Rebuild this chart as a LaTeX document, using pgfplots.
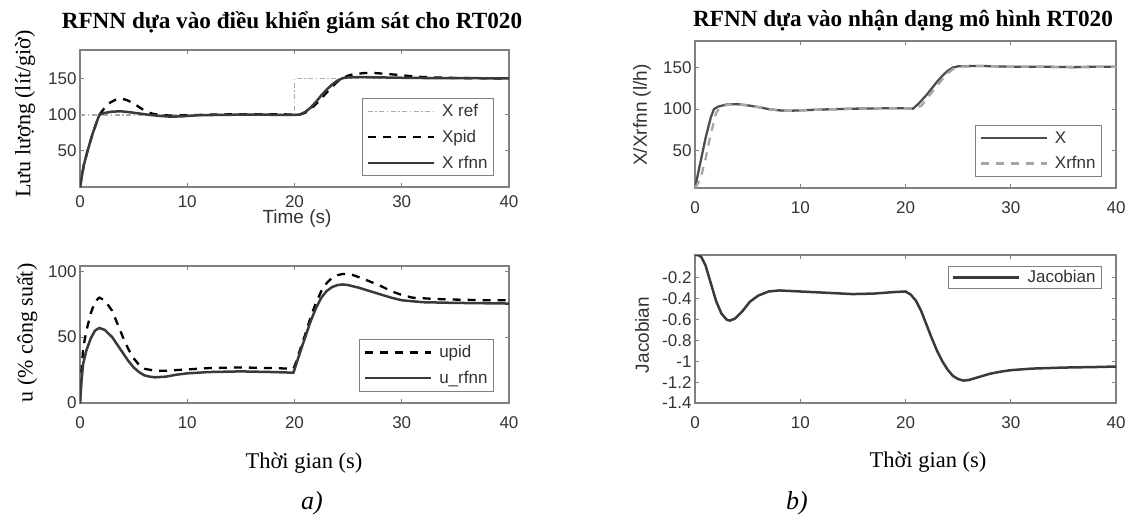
\documentclass[border=0pt]{standalone}
\usepackage{fontspec}
\setmainfont{Liberation Serif}
\newfontfamily\sansf{Liberation Sans}
\usepackage{pgfplots}
\pgfplotsset{compat=1.18}
\definecolor{axgray}{HTML}{808080}
\definecolor{dk}{HTML}{3A3A3A}
\pgfplotsset{
  mat/.style={
    scale only axis, clip=true,
    anchor=north west,
    xmin=0, xmax=40, xtick={0,10,20,30,40},
    axis line style={axgray, line width=1.2bp},
    tick style={axgray, line width=1bp},
    major tick length=4bp,
    tick pos=both, tick align=inside,
    tick label style={font=\sansf\fontsize{17bp}{20bp}\selectfont, text=black!80},
    /pgf/number format/assume math mode=true,
    legend cell align=left,
    legend style={draw=axgray, line width=1bp, fill=white, font=\sansf\fontsize{17bp}{20bp}\selectfont, text=black!80,
      inner xsep=4bp, inner ysep=4bp, row sep=8bp},
    legend image code/.code={\draw[#1] (0bp,0bp) -- (66bp,0bp); \path (71bp,0bp);},
  }
}
\begin{document}
\begin{tikzpicture}
\path[use as bounding box] (0bp,0bp) rectangle (1137bp,-517bp);

% ---- a) top
\begin{axis}[mat, at={(80bp,-50bp)}, width=429bp, height=137bp,
  ymin=0, ymax=190, ytick={50,100,150},
  xticklabel style={yshift=-5bp},
  legend style={at={(0.965,0.65)}, anchor=north east}]
\addplot[gray!65, line width=1.3bp, dash pattern=on 5bp off 2.5bp on 1.5bp off 2.5bp] coordinates {(0,100) (20,100) (20,150) (40,150)};
\addlegendentry{X ref}
\addplot[black, line width=2.3bp, dash pattern=on 8bp off 7bp] coordinates {
(0,0) (0.35,30) (0.7,50) (1.2,75) (1.8,100) (2.3,110) (2.8,117) (3.3,121) (3.8,122.5) (4.3,121) (4.8,117.5) (5.3,113) (5.8,108) (6.3,104) (6.8,101.5) (7.5,100) (8.5,99) (10,99.5) (12,100.3) (15,101) (18,101) (20,100.5) (20.5,100.5) (21,103) (21.5,108) (22,115) (22.5,123) (23,131) (23.5,139) (24,146) (24.5,151) (25,154.5) (25.5,156.5) (26.5,158) (27.5,158) (28.5,157) (30,155) (31,153.5) (32,152.5) (34,151.5) (36,151) (40,150.5)};
\addlegendentry{Xpid}
\addplot[dk, line width=2.5bp] coordinates {
(0,0) (0.35,30) (0.7,50) (1.2,75) (1.8,100) (2.2,102.5) (3,104.5) (3.8,105) (4.5,104) (5.5,102) (6.5,100) (7.5,98.5) (8.5,97.5) (9.5,98) (11,99.5) (13,100) (16,100.5) (19,100) (20,100) (20.5,100.5) (21,104) (21.5,110) (22,118) (22.5,127) (23,135) (23.5,142) (24,147.5) (24.5,151) (25,152) (26,152.5) (28,152) (30,151.5) (33,151) (36,151) (40,150.5)};
\addlegendentry{X rfnn}
\end{axis}

% ---- a) bottom
\begin{axis}[mat, at={(80bp,-266bp)}, width=429bp, height=137bp,
  ymin=0, ymax=104, ytick={0,50,100},
  xticklabel style={yshift=-10bp},
  legend style={at={(0.965,0.467)}, anchor=north east}]
\addplot[black, line width=2.3bp, dash pattern=on 8bp off 7bp] coordinates {
(0,0) (0.15,25) (0.3,42) (0.6,55) (1,68) (1.4,77) (1.8,80) (2.3,78) (3,70) (3.5,60) (4,50) (4.5,41) (5,34) (5.5,29) (6,26) (7,24.5) (8,24.5) (9,25) (10,25.5) (12,26.5) (15,27) (18,26.5) (19.9,26) (20.1,30) (20.5,40) (21,52) (21.5,65) (22,76) (22.5,85) (23,91) (23.5,95) (24,97) (24.5,98) (25,98) (25.5,97) (26.5,94) (28,89) (29,85) (30,82) (31,80) (33,79) (35,78.5) (38,78) (40,78)};
\addlegendentry{upid}
\addplot[dk, line width=2.5bp] coordinates {
(0,0) (0.15,18) (0.3,30) (0.6,40) (1,49) (1.4,55) (1.8,57) (2.3,55.5) (3,50) (3.5,44) (4,38) (4.5,32) (5,27) (5.5,23.5) (6,21) (6.5,20) (7,19.5) (8,20) (9,21.5) (10,22.5) (12,23.5) (15,24) (18,23.5) (19.9,23) (20.1,28) (20.5,38) (21,50) (21.5,62) (22,72) (22.5,80) (23,85) (23.5,88) (24,89.5) (24.5,90) (25,89.5) (26,87.5) (27,85) (28,82.5) (29,80) (30,78) (32,76.5) (35,76) (40,75.5)};
\addlegendentry{u\_rfnn}
\end{axis}

% ---- b) top
\begin{axis}[mat, at={(695bp,-41bp)}, width=421bp, height=147bp,
  ymin=5, ymax=182, ytick={50,100,150},
  xticklabel style={yshift=-10bp},
  legend style={at={(0.967,0.429)}, anchor=north east}]
\addplot[dk!90, line width=2.3bp] coordinates {
(0,5) (0.5,35) (1,65) (1.5,90) (1.8,100) (2.2,103) (3,105.5) (4,106) (5,104.5) (6,102.5) (7,100) (8,98.5) (9,98) (10,98.5) (12,99.5) (15,100.5) (18,101) (20,101) (20.7,100.5) (21.2,106) (22,117) (22.5,125) (23,133) (23.5,140) (24,146) (24.5,150) (25,151.5) (27,152) (30,151) (33,151) (36,150.5) (38,151) (40,151)};
\addlegendentry{X}
\addplot[gray!70, line width=2.3bp, dash pattern=on 8bp off 7bp] coordinates {
(0,5) (0.5,15) (1,40) (1.5,70) (2,95) (2.3,101) (3,105) (4,106) (5,104.5) (6,102.5) (7,100) (8,98.5) (9,98) (10,98.5) (12,99.5) (15,100.5) (18,101) (20,101) (20.7,100.5) (21.5,104) (22,112) (22.5,120) (23,128) (23.5,136) (24,143) (24.5,148) (25,151) (27,152) (30,151) (33,151) (36,150.5) (38,151) (40,151)};
\addlegendentry{Xrfnn}
\end{axis}

% ---- b) bottom
\begin{axis}[mat, at={(695bp,-255bp)}, width=421bp, height=148bp,
  ymin=-1.4, ymax=0.02, ytick={-1.4,-1.2,-1,-0.8,-0.6,-0.4,-0.2},
  yticklabels={-1.4,-1.2,-1,-0.8,-0.6,-0.4,-0.2},
  xticklabel style={yshift=-10bp},
  legend style={at={(0.967,0.926)}, anchor=north east, inner ysep=2bp}]
\addplot[dk, line width=2.5bp] coordinates {
(0,0.02) (0.3,0.02) (0.6,0) (1,-0.08) (1.5,-0.25) (2,-0.42) (2.5,-0.54) (3,-0.6) (3.3,-0.61) (3.8,-0.59) (4.5,-0.52) (5.2,-0.43) (6,-0.37) (7,-0.33) (8,-0.32) (10,-0.33) (12,-0.34) (15,-0.355) (17,-0.35) (19,-0.335) (20,-0.33) (20.5,-0.36) (21,-0.42) (21.5,-0.52) (22,-0.65) (22.5,-0.78) (23,-0.9) (23.5,-1.0) (24,-1.08) (24.5,-1.14) (25,-1.17) (25.5,-1.185) (26,-1.18) (27,-1.15) (28,-1.12) (29,-1.1) (30,-1.085) (32,-1.07) (35,-1.06) (38,-1.055) (40,-1.05)};
\addlegendentry{Jacobian}
\end{axis}

% ---- texts
\node[font=\bfseries\fontsize{23.2bp}{27bp}\selectfont] at (292bp,-23bp) {RFNN dựa vào điều khiển giám sát cho RT020};
\node[font=\bfseries\fontsize{23.2bp}{27bp}\selectfont] at (903bp,-21bp) {RFNN dựa vào nhận dạng mô hình RT020};
\node[rotate=90, font=\fontsize{22bp}{26bp}\selectfont] at (25bp,-114bp) {Lưu lượng (lít/giờ)};
\node[rotate=90, font=\fontsize{22bp}{26bp}\selectfont] at (27bp,-333bp) {u (\% công suất)};
\node[rotate=90, font=\sansf\fontsize{19bp}{22bp}\selectfont, text=black!80] at (642bp,-115bp) {X/Xrfnn (l/h)};
\node[rotate=90, font=\sansf\fontsize{19bp}{22bp}\selectfont, text=black!80] at (642bp,-335bp) {Jacobian};
\node[font=\sansf\fontsize{19bp}{22bp}\selectfont, text=black!80] at (297bp,-219bp) {Time (s)};
\node[font=\fontsize{22.5bp}{26bp}\selectfont] at (304bp,-463bp) {Thời gian (s)};
\node[font=\fontsize{22.5bp}{26bp}\selectfont] at (928bp,-462bp) {Thời gian (s)};
\node[font=\itshape\fontsize{26bp}{30bp}\selectfont] at (312bp,-503bp) {a)};
\node[font=\itshape\fontsize{26bp}{30bp}\selectfont] at (797bp,-503bp) {b)};
\end{tikzpicture}
\end{document}
